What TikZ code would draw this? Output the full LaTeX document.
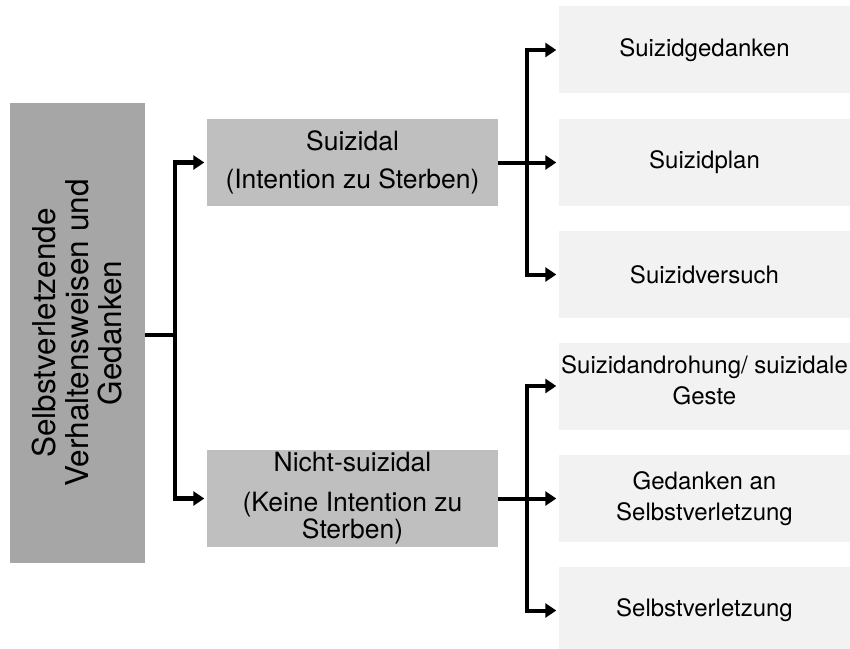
\documentclass[tikz,border=0pt]{standalone}
\usepackage{fontspec}
\setmainfont{TeX Gyre Heros}
\usetikzlibrary{arrows.meta}
\definecolor{rootgray}{RGB}{166,166,166}
\definecolor{midgray}{RGB}{191,191,191}
\definecolor{leafgray}{RGB}{242,242,242}
\tikzset{
  rootbox/.style={fill=rootgray, draw=none, inner sep=0pt, rotate=90,
    minimum width=460bp, minimum height=135bp, align=center,
    font=\fontsize{31.5bp}{33bp}\selectfont},
  midbox/.style={fill=midgray, draw=none, inner sep=0pt,
    minimum width=291bp, align=center,
    font=\fontsize{26.5bp}{27bp}\selectfont},
  leafbox/.style={fill=leafgray, draw=none, inner sep=0pt,
    minimum width=291bp, minimum height=87bp, align=center,
    font=\fontsize{24bp}{31bp}\selectfont},
  conn/.style={line width=4.5bp, black},
  conn2/.style={line width=4bp, black},
  arr/.style={-{Triangle[length=11bp,width=14bp]}, shorten >=2.5bp},
}
\begin{document}
\begin{tikzpicture}[x=1bp, y=-1bp]
\useasboundingbox (0,0) rectangle (850,649);
\clip (0,0) rectangle (850,649);
\fill[white] (0,0) rectangle (850,649);

\node[rootbox] (root) at (77.5,333) {Selbstverletzende\\Verhaltensweisen und\\Gedanken};

\node[midbox, minimum height=87bp] (suiz) at (352.5,162.5)
  {Suizidal\\[11bp](Intention zu Sterben)};
\node[midbox, minimum height=97bp] (nicht) at (352.5,498.5)
  {Nicht-suizidal\\[13bp](Keine Intention zu\\Sterben)};

\node[leafbox] (r1) at (704.5,50) {Suizidgedanken};
\node[leafbox] (r2) at (704.5,162.5) {Suizidplan};
\node[leafbox] (r3) at (704.5,274.5) {Suizidversuch};
\node[leafbox] (r4) at (704.5,386) {Suizidandrohung/ suizidale\\Geste\rule[-12bp]{0pt}{0pt}};
\node[leafbox] (r5) at (704.5,498.5) {Gedanken an\\Selbstverletzung};
\node[leafbox] (r6) at (704.5,610.5) {Selbstverletzung};

\coordinate (j0) at (175,335);
\coordinate (j1) at (527,162.5);
\coordinate (j2) at (527,498.5);

\draw[conn] (root.south |- j0) -- (j0);
\draw[conn, arr] (j0) |- (suiz.west);
\draw[conn, arr] (j0) |- (nicht.west);

\draw[conn2, arr] (suiz.east) -- (r2.west);
\draw[conn2, arr] (j1) |- (r1.west);
\draw[conn2, arr] (j1) |- (r3.west);

\draw[conn2, arr] (nicht.east) -- (r5.west);
\draw[conn2, arr] (j2) |- (r4.west);
\draw[conn2, arr] (j2) |- (r6.west);
\end{tikzpicture}
\end{document}
